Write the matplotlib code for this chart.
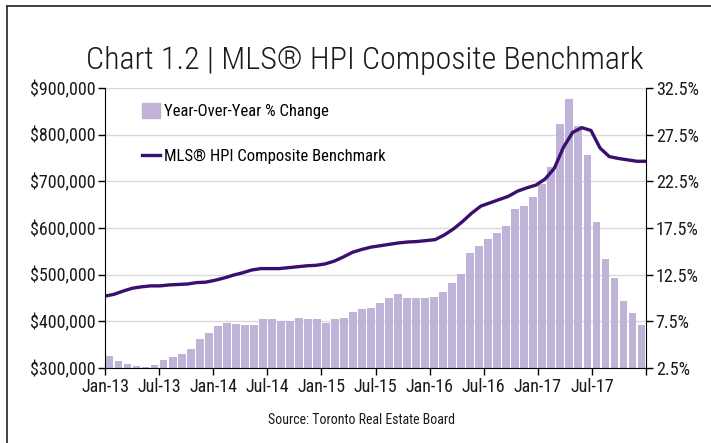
import matplotlib
matplotlib.use('Agg')
import matplotlib.pyplot as plt
from matplotlib import font_manager
from matplotlib.patches import Patch
from matplotlib.lines import Line2D
from matplotlib.ticker import FuncFormatter

# Data (Jan-13 .. Dec-17, monthly)
yoy_pct = [3.8, 3.2, 2.9, 2.75, 2.65, 2.85, 3.4, 3.7, 4.0, 4.5, 5.6, 6.2,
           7.0, 7.3, 7.2, 7.1, 7.1, 7.7, 7.8, 7.55, 7.55, 7.9, 7.7, 7.8,
           7.3, 7.7, 7.9, 8.5, 8.8, 8.95, 9.5, 10.0, 10.4, 10.0, 10.0, 10.0,
           10.1, 10.65, 11.6, 12.6, 14.8, 15.6, 16.3, 16.95, 17.7, 19.5, 19.9, 20.8,
           22.2, 24.0, 28.6, 31.3, 28.4, 25.3, 18.1, 14.2, 12.1, 9.7, 8.4, 7.1]

benchmark = [454000, 458000, 465000, 471000, 474000, 476000, 476000, 478000, 479000, 480000,
             483000, 484000, 488000, 493000, 499000, 504000, 510000, 513000, 513000, 513000,
             515000, 517000, 519000, 520000, 523000, 529000, 538000, 548000, 554000, 559000,
             562000, 565000, 568000, 570000, 571000, 573000, 575000, 585000, 598000, 614000,
             632000, 647000, 654000, 661000, 668000, 679000, 686000, 692000, 705000, 728000,
             773000, 805000, 815000, 809000, 771000, 753000, 749000, 746000, 743000, 743000]

tick_labels = ['Jan-13', 'Jul-13', 'Jan-14', 'Jul-14', 'Jan-15', 'Jul-15',
               'Jan-16', 'Jul-16', 'Jan-17', 'Jul-17', '']

bar_color = '#BFB3D7'
line_color = '#3A0F6E'

# pick a narrow font if there is one
names = {f.name for f in font_manager.fontManager.ttflist}
stretch = 'normal'
font = 'DejaVu Sans'
for cand in ['Roboto Condensed', 'Oswald', 'Liberation Sans Narrow', 'Open Sans Condensed']:
    if cand in names:
        font = cand
        break
else:
    stretch = 'condensed'
plt.rcParams['font.family'] = [font, 'DejaVu Sans']
plt.rcParams['font.stretch'] = stretch

fig = plt.figure(figsize=(7.11, 4.43), dpi=100)
ax = fig.add_axes([105/711, 1-368/443, 541/711, 280/443])
ax2 = ax.twinx()

n = len(yoy_pct)
bar_x = [i + 0.5 for i in range(n)]
line_x = [i * n / (n - 1) for i in range(n)]

ax2.bar(bar_x, yoy_pct, width=0.86, color=bar_color, zorder=2)
ax2.set_ylim(2.5, 32.5)
ax2.set_yticks([2.5 + 5*k for k in range(7)])
ax2.yaxis.set_major_formatter(FuncFormatter(lambda v, p: '%.1f%%' % v))
ax2.grid(axis='y', color='#D9D9D9', linewidth=1.0, zorder=0)
ax2.set_axisbelow(True)

ax.plot(line_x, benchmark, color=line_color, linewidth=2.4, solid_capstyle='round')
ax.set_ylim(300000, 900000)
ax.set_yticks(range(300000, 900001, 100000))
ax.yaxis.set_major_formatter(FuncFormatter(lambda v, p: '${:,.0f}'.format(v)))
ax.set_xlim(0, n)
ax.set_xticks(range(0, n + 1, 6))
ax.set_xticklabels(tick_labels)
ax.set_zorder(ax2.get_zorder() + 1)
ax.patch.set_visible(False)

for a in (ax, ax2):
    for s in a.spines.values():
        s.set_visible(False)
    a.tick_params(labelsize=13, length=5, width=1, color='black', labelcolor='#1a1a1a', pad=2)
ax.spines['left'].set_visible(True)
ax.spines['bottom'].set_visible(True)
ax2.spines['right'].set_visible(True)

handles = [Patch(color=bar_color), Line2D([0], [0], color=line_color, linewidth=2.4)]
ax.legend(handles, ['Year-Over-Year % Change', 'MLS® HPI Composite Benchmark'],
          loc='upper left', bbox_to_anchor=(37/541, 1 - 15/280), frameon=False,
          fontsize=12, borderpad=0, borderaxespad=0, labelspacing=1.75,
          handlelength=1.05, handleheight=1.0, handletextpad=0.3)

fig.text(365/711, 1 - 69/443, 'Chart 1.2 | MLS® HPI Composite Benchmark',
         ha='center', va='baseline', fontsize=23, weight='light', color='#1a1a1a')
fig.text(362/711, 1 - 420/443, 'Source: Toronto Real Estate Board',
         ha='center', va='center', fontsize=10, color='#1a1a1a')

# outer frame
fig.add_artist(plt.Line2D([7/711, 7/711], [0, 1 - 6/443], transform=fig.transFigure,
                          color='#333333', linewidth=1.3))
fig.add_artist(plt.Line2D([7/711, 1], [1 - 6/443, 1 - 6/443], transform=fig.transFigure,
                          color='#333333', linewidth=1.3))

fig.savefig('out.png', dpi=100)
